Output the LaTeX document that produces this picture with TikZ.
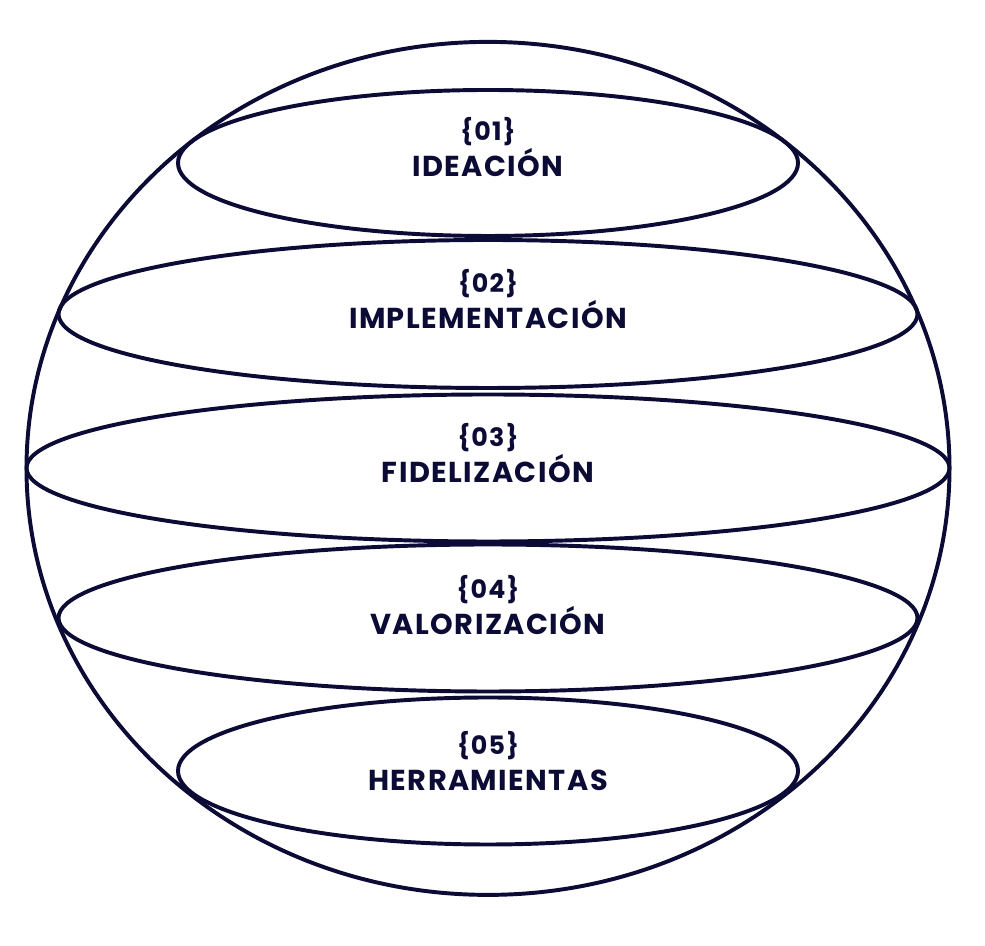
\documentclass[tikz,border=0pt]{standalone}
\usepackage{fontspec}
\setmainfont{Poppins}
\newfontfamily\labelfont[LetterSpace=5]{Poppins}
\usetikzlibrary{shapes.geometric}
\definecolor{navy}{HTML}{0B0B35}
\tikzset{
  ring/.style={draw=navy, line width=2.8pt, ellipse, inner sep=0pt},
  numtxt/.style={text=navy, font=\labelfont\fontsize{18}{21}\selectfont\bfseries},
  titletxt/.style={text=navy, font=\labelfont\fontsize{20.5}{24}\selectfont\bfseries}
}
\begin{document}
\begin{tikzpicture}
\useasboundingbox (0,0) rectangle (24.625,23.65);
% globe outline
\node[ring, minimum width=23.075cm, minimum height=21.325cm] (globe) at (12.2,11.94) {};
% bands
\node[ring, minimum width=15.5cm, minimum height=3.65cm] (b1) at (12.2,19.575) {};
\node[ring, minimum width=21.475cm, minimum height=3.7cm] (b2) at (12.2,15.8) {};
\node[ring, minimum width=23.075cm, minimum height=3.675cm] (b3) at (12.2,11.95) {};
\node[ring, minimum width=21.475cm, minimum height=3.675cm] (b4) at (12.2,8.2) {};
\node[ring, minimum width=15.5cm, minimum height=3.675cm] (b5) at (12.2,4.375) {};
% labels
\node[numtxt] (n1) at (12.2,20.35) {\{01\}};
\node[titletxt] (t1) at (12.2,19.575) {IDEACIÓN};
\node[numtxt] (n2) at (12.2,16.55) {\{02\}};
\node[titletxt] (t2) at (12.2,15.775) {IMPLEMENTACIÓN};
\node[numtxt] (n3) at (12.2,12.7) {\{03\}};
\node[titletxt] (t3) at (12.2,11.925) {FIDELIZACIÓN};
\node[numtxt] (n4) at (12.2,8.9) {\{04\}};
\node[titletxt] (t4) at (12.2,8.125) {VALORIZACIÓN};
\node[numtxt] (n5) at (12.2,5.0) {\{05\}};
\node[titletxt] (t5) at (12.2,4.15) {HERRAMIENTAS};
\end{tikzpicture}
\end{document}
